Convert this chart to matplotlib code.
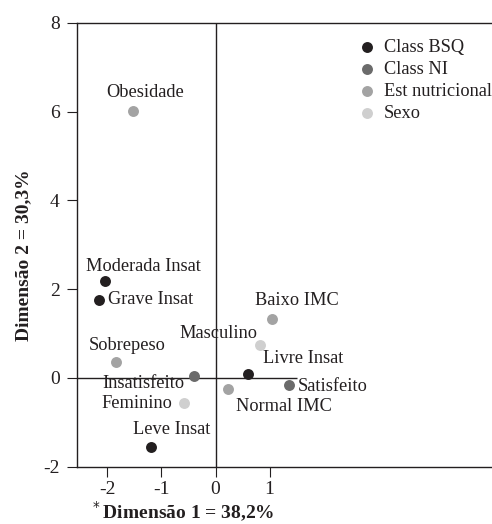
import matplotlib
matplotlib.use("Agg")
import matplotlib.pyplot as plt

plt.rcParams['font.family'] = ['Liberation Serif', 'DejaVu Serif']

# categories of the correspondence analysis
groups = ["Class BSQ", "Class NI", "Est nutricional", "Sexo"]
group_colors = ["#231f20", "#6b6b6b", "#a3a3a3", "#cfcfcf"]

labels = ["Obesidade", "Moderada Insat", "Grave Insat", "Sobrepeso", "Insatisfeito",
          "Feminino", "Leve Insat", "Normal IMC", "Livre Insat", "Satisfeito",
          "Masculino", "Baixo IMC"]
dim1 = [-1.53, -2.05, -2.16, -1.83, -0.39, -0.59, -1.19, 0.23, 0.60, 1.36, 0.82, 1.05]
dim2 = [6.01, 2.18, 1.76, 0.35, 0.04, -0.56, -1.55, -0.26, 0.08, -0.17, 0.74, 1.32]
group_of = [2, 0, 0, 2, 1, 3, 0, 2, 0, 1, 3, 2]

# label offsets (pixels) and alignment
offs = {
    "Obesidade": (12, 19, "center"),
    "Moderada Insat": (39, 15, "center"),
    "Grave Insat": (9, 0, "left"),
    "Sobrepeso": (11, 17, "center"),
    "Insatisfeito": (-10, -7, "right"),
    "Feminino": (-11, -1, "right"),
    "Leve Insat": (21, 17, "center"),
    "Normal IMC": (56, -17, "center"),
    "Livre Insat": (55, 16, "center"),
    "Satisfeito": (9, -1, "left"),
    "Masculino": (-41, 12, "center"),
    "Baixo IMC": (25, 19, "center"),
}

fig = plt.figure(figsize=(4.92, 5.24), dpi=100)
ax = fig.add_axes([0.1565, 0.1094, 0.8435, 0.847])

for g in range(len(groups)):
    xs = [dim1[i] for i in range(len(labels)) if group_of[i] == g]
    ys = [dim2[i] for i in range(len(labels)) if group_of[i] == g]
    ax.scatter(xs, ys, s=62, color=group_colors[g], label=groups[g], zorder=3, linewidths=0)

for i, lab in enumerate(labels):
    dx, dy, ha = offs[lab]
    ax.annotate(lab, (dim1[i], dim2[i]), xytext=(dx, dy), textcoords="offset pixels",
                ha=ha, va="center", fontsize=13.2, color="#231f20")

ax.set_xlim(-2.56, 5.11)
ax.set_ylim(-2, 8)
ax.axvline(0, color="#231f20", lw=1, zorder=1)
ax.hlines(0, -2.56, 1.5, color="#231f20", lw=1, zorder=1)

ax.set_xticks([-2, -1, 0, 1])
ax.set_yticks([-2, 0, 2, 4, 6, 8])
ax.set_yticklabels(["-2", "0", "2", "4", "6", "8"])
ax.set_xticklabels(["-2", "-1", "0", "1"])
ax.tick_params(direction="out", length=7, width=0.8, pad=5.5, labelsize=14, colors="#231f20")
ax.tick_params(axis="x", pad=3.5)
ax.spines["right"].set_visible(False)
for sp in ["left", "top", "bottom"]:
    ax.spines[sp].set_linewidth(1)
    ax.spines[sp].set_color("#231f20")

ax.set_ylabel("Dimensão 2 = 30,3%", fontsize=14, fontweight="bold", color="#231f20")
ax.yaxis.set_label_coords(-0.108, 0.477)
ax.set_xlabel(r"$^*$Dimensão 1 = 38,2%", fontsize=14, fontweight="bold", color="#231f20")
ax.xaxis.set_label_coords(0.253, -0.073)

leg = ax.legend(loc="upper left", bbox_to_anchor=(0.655, 0.985), frameon=False,
                fontsize=13.2, handletextpad=0.4, labelspacing=0.28,
                borderpad=0, handlelength=1.0, scatterpoints=1)
for t in leg.get_texts():
    t.set_color("#231f20")

fig.savefig("out.png", dpi=100)
